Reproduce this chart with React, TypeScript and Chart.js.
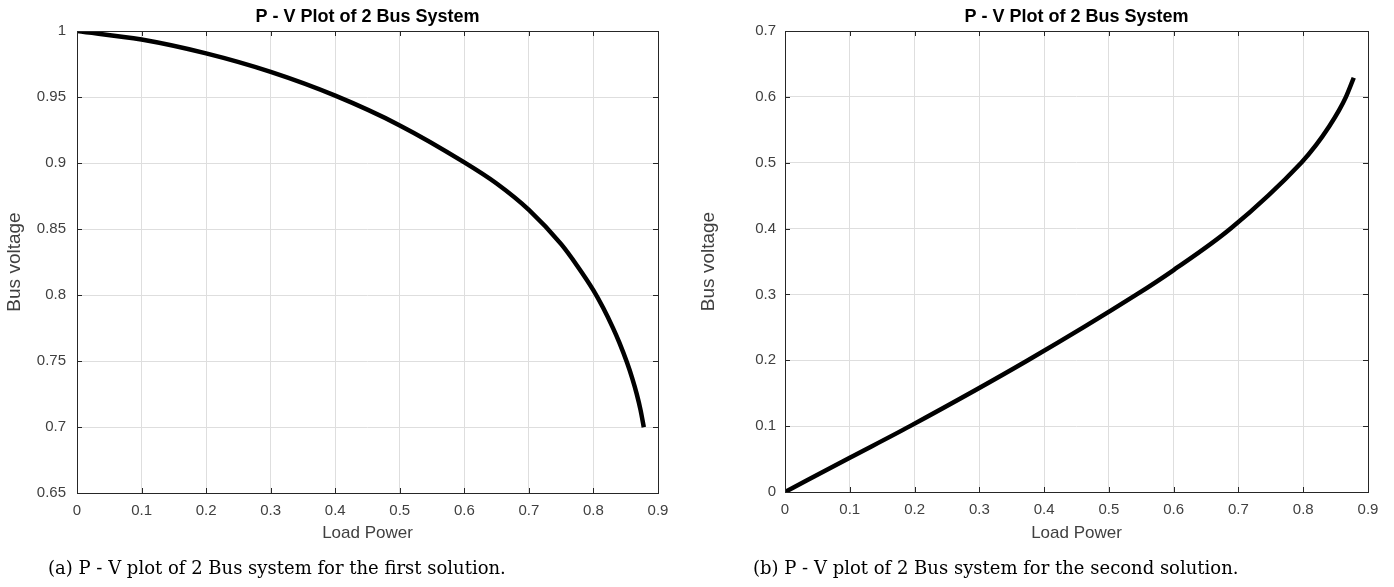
import React, { useEffect, useRef } from "react";
import { Chart, registerables } from "chart.js";

Chart.register(...registerables);

// ---------- data ----------
const xTicks = [0, 0.1, 0.2, 0.3, 0.4, 0.5, 0.6, 0.7, 0.8, 0.9];
const xTickLabels = ["0", "0.1", "0.2", "0.3", "0.4", "0.5", "0.6", "0.7", "0.8", "0.9"];

const leftYTicks = [0.65, 0.7, 0.75, 0.8, 0.85, 0.9, 0.95, 1];
const leftYTickLabels = ["0.65", "0.7", "0.75", "0.8", "0.85", "0.9", "0.95", "1"];

const rightYTicks = [0, 0.1, 0.2, 0.3, 0.4, 0.5, 0.6, 0.7];
const rightYTickLabels = ["0", "0.1", "0.2", "0.3", "0.4", "0.5", "0.6", "0.7"];

// first solution (upper branch)
const leftP = [0, 0.1, 0.2, 0.3, 0.4, 0.5, 0.6, 0.65, 0.7, 0.75, 0.775, 0.8, 0.815, 0.83, 0.84, 0.852, 0.86, 0.867, 0.873, 0.878];
const leftV = [1.0, 0.9935, 0.983, 0.969, 0.951, 0.9285, 0.9005, 0.8845, 0.8645, 0.8385, 0.822, 0.8035, 0.7903, 0.7753, 0.7641, 0.7488, 0.737, 0.7251, 0.7128, 0.6998];

// second solution (lower branch)
const rightP = [0, 0.1, 0.193, 0.375, 0.543, 0.6, 0.688, 0.797, 0.82, 0.84, 0.855, 0.866, 0.878];
const rightV = [0, 0.052, 0.1, 0.2, 0.3, 0.337, 0.4, 0.5, 0.527, 0.555, 0.579, 0.6, 0.629];

const titleText = "P - V Plot of 2 Bus System";
const xLabel = "Load Power";
const yLabel = "Bus voltage";
const captionA = "(a) P - V plot of 2 Bus system for the first solution.";
const captionB = "(b) P - V plot of 2 Bus system for the second solution.";

const FONT = "'Liberation Sans', Arial, Helvetica, sans-serif";
const AXIS_COLOR = "#262626";
const TICK_COLOR = "#404040";
const GRID_COLOR = "#dedede";

type PlotProps = {
  xs: number[];
  ys: number[];
  yTicks: number[];
  yTickLabels: string[];
  yMin: number;
  yMax: number;
  width: number;
  height: number;
  yAxisWidth: number;
  xAxisHeight: number;
  padRight: number;
  yTitlePad: number;
  yTickPad: number;
};

const framePlugin = {
  id: "frame",
  afterDatasetsDraw(chart: any) {
    const { ctx, chartArea, scales } = chart;
    const { left, top, right, bottom } = chartArea;
    ctx.save();
    ctx.strokeStyle = AXIS_COLOR;
    ctx.lineWidth = 1;
    ctx.beginPath();
    const tl = 5;
    for (const t of scales.x.ticks) {
      const px = Math.round(scales.x.getPixelForValue(t.value)) + 0.5;
      ctx.moveTo(px, bottom);
      ctx.lineTo(px, bottom - tl);
      ctx.moveTo(px, top);
      ctx.lineTo(px, top + tl);
    }
    for (const t of scales.y.ticks) {
      const py = Math.round(scales.y.getPixelForValue(t.value)) + 0.5;
      ctx.moveTo(left, py);
      ctx.lineTo(left + tl, py);
      ctx.moveTo(right, py);
      ctx.lineTo(right - tl, py);
    }
    ctx.stroke();
    ctx.strokeRect(Math.round(left) + 0.5, Math.round(top) + 0.5, Math.round(right - left), Math.round(bottom - top));
    ctx.restore();
  },
};

function PVPlot(props: PlotProps) {
  const ref = useRef<HTMLCanvasElement | null>(null);
  useEffect(() => {
    if (!ref.current) return;
    const data = props.xs.map((x, i) => ({ x, y: props.ys[i] }));
    const chart = new Chart(ref.current, {
      type: "scatter",
      data: {
        datasets: [
          {
            data,
            showLine: true,
            borderColor: "#000000",
            backgroundColor: "#000000",
            borderWidth: 4.5,
            pointRadius: 0,
            cubicInterpolationMode: "monotone",
            borderCapStyle: "butt",
          } as any,
        ],
      },
      options: {
        responsive: false,
        animation: false,
        devicePixelRatio: 1,
        layout: { padding: { left: 0, right: props.padRight, top: 0, bottom: 0 } },
        plugins: {
          legend: { display: false },
          tooltip: { enabled: false },
          title: {
            display: true,
            text: titleText,
            color: "#000000",
            fullSize: false,
            font: { family: FONT, size: 18, weight: "bold" },
            padding: { top: 6.2, bottom: 3.2 },
          } as any,
        },
        scales: {
          x: {
            type: "linear",
            min: 0,
            max: 0.9,
            afterBuildTicks: (s: any) => {
              s.ticks = xTicks.map((v) => ({ value: v }));
            },
            afterFit: (s: any) => {
              s.height = props.xAxisHeight;
            },
            ticks: {
              callback: (_v: any, i: number) => xTickLabels[i],
              color: TICK_COLOR,
              font: { family: FONT, size: 15 },
              padding: 9,
              maxRotation: 0,
              autoSkip: false,
            },
            grid: { color: GRID_COLOR, drawTicks: false, lineWidth: 1 },
            border: { display: false },
            title: {
              display: true,
              text: xLabel,
              color: TICK_COLOR,
              font: { family: FONT, size: 17 },
              padding: { top: 0, bottom: 16 },
            },
          },
          y: {
            type: "linear",
            min: props.yMin,
            max: props.yMax,
            afterBuildTicks: (s: any) => {
              s.ticks = props.yTicks.map((v) => ({ value: v }));
            },
            afterFit: (s: any) => {
              s.width = props.yAxisWidth;
            },
            ticks: {
              callback: (_v: any, i: number) => props.yTickLabels[i],
              color: TICK_COLOR,
              font: { family: FONT, size: 15 },
              padding: props.yTickPad,
              autoSkip: false,
            },
            grid: { color: GRID_COLOR, drawTicks: false, lineWidth: 1 },
            border: { display: false },
            title: {
              display: true,
              text: yLabel,
              color: TICK_COLOR,
              font: { family: FONT, size: 19 },
              padding: { top: props.yTitlePad, bottom: 0 },
            },
          },
        },
      } as any,
      plugins: [framePlugin],
    });
    return () => chart.destroy();
  }, []);
  return (
    <canvas
      ref={ref}
      width={props.width}
      height={props.height}
      style={{ width: props.width, height: props.height, display: "block" }}
    />
  );
}

export default function App() {
  const captionStyle: React.CSSProperties = {
    position: "absolute",
    top: 556,
    fontFamily: "'DejaVu Serif', serif",
    fontSize: 18,
    lineHeight: "24px",
    whiteSpace: "nowrap",
    color: "#000",
  };
  return (
    <div
      style={{
        position: "absolute",
        left: 0,
        top: 0,
        width: 1394,
        height: 587,
        background: "#ffffff",
        overflow: "hidden",
      }}
    >
      <div style={{ position: "absolute", left: 0, top: 0 }}>
        <PVPlot
          xs={leftP}
          ys={leftV}
          yTicks={leftYTicks}
          yTickLabels={leftYTickLabels}
          yMin={0.65}
          yMax={1}
          width={697}
          height={560}
          yAxisWidth={77}
          xAxisHeight={67}
          padRight={39}
          yTitlePad={3}
          yTickPad={11}
        />
      </div>
      <div style={{ position: "absolute", left: 697, top: 0 }}>
        <PVPlot
          xs={rightP}
          ys={rightV}
          yTicks={rightYTicks}
          yTickLabels={rightYTickLabels}
          yMin={0}
          yMax={0.7}
          width={697}
          height={560}
          yAxisWidth={88}
          xAxisHeight={68}
          padRight={26}
          yTitlePad={0}
          yTickPad={9}
        />
      </div>
      <div style={{ ...captionStyle, left: 48 }}>{captionA}</div>
      <div style={{ ...captionStyle, left: 753 }}>{captionB}</div>
    </div>
  );
}
